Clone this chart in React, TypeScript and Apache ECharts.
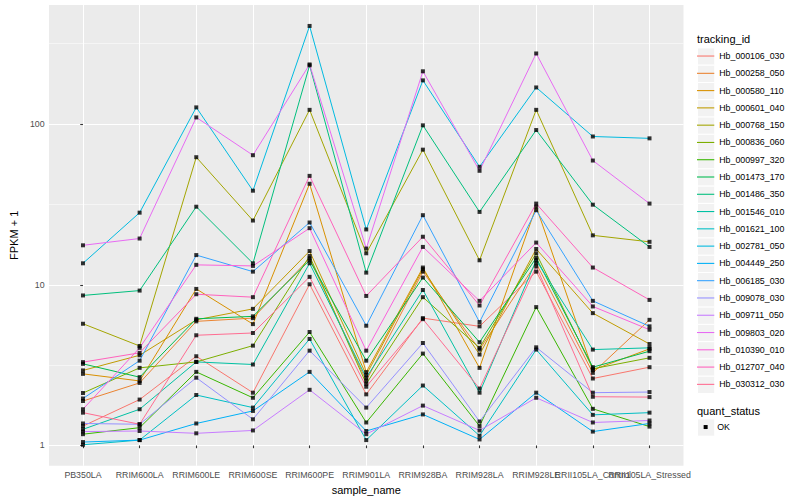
import React, { useEffect, useRef } from "react";
import * as echarts from "echarts";

const categories = [
  "PB350LA", "RRIM600LA", "RRIM600LE", "RRIM600SE", "RRIM600PE", "RRIM901LA",
  "RRIM928BA", "RRIM928LA", "RRIM928LE", "RRII105LA_Control", "RRII105LA_Stressed",
];

const trackingIds = [
  "Hb_000106_030", "Hb_000258_050", "Hb_000580_110", "Hb_000601_040", "Hb_000768_150",
  "Hb_000836_060", "Hb_000997_320", "Hb_001473_170", "Hb_001486_350", "Hb_001546_010",
  "Hb_001621_100", "Hb_002781_050", "Hb_004449_250", "Hb_006185_030", "Hb_009078_030",
  "Hb_009711_050", "Hb_009803_020", "Hb_010390_010", "Hb_012707_040", "Hb_030312_030",
];

const seriesColors = [
  "#F8766D", "#EA8331", "#D89000", "#C09B00", "#A3A500", "#7CAE00", "#39B600",
  "#00BB4E", "#00BF7D", "#00C1A3", "#00BFC4", "#00BAE0", "#00B0F6", "#35A2FF",
  "#9590FF", "#C77CFF", "#E76BF3", "#FA62DB", "#FF62BC", "#FF6C91",
];

// FPKM + 1 per sample, in the order of `categories`
const hb_000106_030 = [1.32, 1.93, 3.59, 2.13, 10.07, 2.08, 6.2, 5.51, 12.07, 2.61, 3.07];
const hb_000258_050 = [1.89, 2.45, 5.92, 6.2, 14.6, 2.53, 12.07, 3.95, 13.6, 2.83, 6.05];
const hb_000580_110 = [2.79, 2.52, 9.42, 5.69, 42.5, 2.86, 12.8, 3.04, 30.6, 2.95, 3.99];
const hb_000601_040 = [2.93, 3.64, 6.05, 7.08, 16.2, 2.75, 12.5, 3.68, 16.7, 6.66, 4.28];
const hb_000768_150 = [5.72, 4.16, 62.2, 25.1, 122.6, 15.7, 69.3, 14.2, 122.6, 20.3, 18.5];
const hb_000836_060 = [2.12, 3.04, 3.31, 4.18, 15.1, 2.42, 8.37, 4.05, 15.7, 3.0, 3.51];
const hb_000997_320 = [1.175, 1.29, 2.87, 1.98, 5.08, 1.39, 3.73, 1.32, 7.26, 1.69, 1.31];
const hb_001473_170 = [3.22, 2.66, 6.14, 6.36, 14.2, 3.37, 11.08, 4.39, 14.7, 3.07, 3.86];
const hb_001486_350 = [8.58, 9.2, 30.6, 13.6, 232, 11.9, 98.2, 28.4, 91.8, 31.5, 17.2];
const hb_001546_010 = [1.26, 1.68, 3.31, 3.19, 13.6, 2.64, 9.28, 2.13, 14.2, 3.95, 4.05];
const hb_001621_100 = [1.01, 1.08, 2.06, 1.72, 4.6, 1.08, 2.36, 1.15, 3.95, 1.55, 1.6];
const hb_002781_050 = [13.6, 28.1, 127, 38.5, 408, 22.1, 187, 54.2, 169, 83.7, 81.5];
const hb_004449_250 = [1.05, 1.08, 1.37, 1.64, 2.87, 1.23, 1.56, 1.09, 2.13, 1.22, 1.37];
const hb_006185_030 = [1.96, 3.37, 15.3, 12.07, 24.4, 5.56, 27.1, 5.86, 29.1, 7.94, 5.51];
const hb_009078_030 = [1.37, 1.355, 2.64, 1.455, 3.89, 1.72, 4.34, 1.41, 4.08, 2.13, 2.15];
const hb_009711_050 = [1.22, 1.23, 1.19, 1.24, 2.22, 1.175, 1.77, 1.24, 1.98, 1.39, 1.43];
const hb_009803_020 = [17.6, 19.4, 110, 64, 235, 16.8, 213, 51.2, 275, 59.3, 32];
const hb_010390_010 = [1.68, 4.05, 13.3, 13.1, 22.5, 3.89, 17.2, 7.94, 18.3, 7.33, 5.25];
const hb_012707_040 = [3.3, 3.77, 8.73, 8.37, 47.6, 8.52, 19.9, 7.43, 32, 12.8, 8.05];
const hb_030312_030 = [1.6, 1.355, 4.85, 5.01, 11.2, 2.32, 6.11, 2.26, 13.0, 2.01, 2.0];

const seriesValues = [
  hb_000106_030, hb_000258_050, hb_000580_110, hb_000601_040, hb_000768_150,
  hb_000836_060, hb_000997_320, hb_001473_170, hb_001486_350, hb_001546_010,
  hb_001621_100, hb_002781_050, hb_004449_250, hb_006185_030, hb_009078_030,
  hb_009711_050, hb_009803_020, hb_010390_010, hb_012707_040, hb_030312_030,
];

const yTickLabels = [1, 10, 100];
const quantStatus = ["OK"];

const FONT = "'Liberation Sans', Arial, Helvetica, sans-serif";

export default function App() {
  const ref = useRef<HTMLDivElement>(null);

  useEffect(() => {
    if (!ref.current) return;
    const chart = echarts.init(ref.current, undefined, { renderer: "svg" });

    const logs = seriesValues.flat().map((v) => Math.log10(v));
    const lo = Math.min(...logs);
    const hi = Math.max(...logs);
    const pad = (hi - lo) * 0.05;
    const yMin = lo - pad;
    const yMax = hi + pad;

    const majorLog = yTickLabels.map((v) => Math.log10(v));
    const minorLog: number[] = [];
    for (let i = 0; i < majorLog.length; i++) minorLog.push(majorLog[i] + 0.5);

    const catIdx = categories.map((_, i) => i);
    const evenIdx = catIdx.filter((i) => i % 2 === 0);
    const oddIdx = catIdx.filter((i) => i % 2 === 1);

    const panelLeft = 40;
    const panelTop = 5;
    const panelW = 643.5;
    const panelH = 463.3;

    const keySize = 17.28;
    const legendLeft = 697;
    const legendTop = 47.4;

    const graphics: any[] = [];
    trackingIds.forEach((_, i) => {
      graphics.push({
        type: "rect",
        left: legendLeft,
        top: legendTop + keySize * i,
        shape: { width: keySize, height: keySize },
        style: { fill: "#F2F2F2", stroke: "#FFFFFF", lineWidth: 1 },
        z: 0,
      });
    });
    graphics.push({
      type: "text",
      left: legendLeft,
      top: 33,
      style: { text: "tracking_id", fill: "#000000", font: `11px ${FONT}` },
    });
    graphics.push({
      type: "text",
      left: legendLeft,
      top: 405,
      style: { text: "quant_status", fill: "#000000", font: `11px ${FONT}` },
    });
    quantStatus.forEach((q, i) => {
      const top = 418.4 + keySize * i;
      graphics.push({
        type: "rect",
        left: legendLeft,
        top,
        shape: { width: keySize, height: keySize },
        style: { fill: "#F2F2F2", stroke: "#FFFFFF", lineWidth: 1 },
      });
      graphics.push({
        type: "rect",
        left: legendLeft + keySize / 2 - 2,
        top: top + keySize / 2 - 2,
        shape: { width: 4, height: 4 },
        style: { fill: "#000000" },
      });
      graphics.push({
        type: "text",
        left: legendLeft + keySize + 3,
        top: top + keySize / 2 - 5,
        style: { text: q, fill: "#000000", font: `8.8px ${FONT}` },
      });
    });

    const lineSeries = trackingIds.map((name, i) => ({
      name,
      type: "line",
      data: seriesValues[i].map((v, j) => [j, Math.log10(v)]),
      symbol: "none",
      color: seriesColors[i],
      lineStyle: { color: seriesColors[i], width: 1 },
      silent: true,
      emphasis: { disabled: true },
      z: 2,
    }));

    const pointData: number[][] = [];
    seriesValues.forEach((vals) => vals.forEach((v, j) => pointData.push([j, Math.log10(v)])));

    const labelStyle = {
      formatter: (v: number) => categories[Math.round(v)] ?? "",
      color: "#4D4D4D",
      fontSize: 8.8,
      margin: 4.4,
      fontFamily: FONT,
      hideOverlap: false,
      showMinLabel: true,
      showMaxLabel: true,
    };

    const option: any = {
      animation: false,
      textStyle: { fontFamily: FONT },
      grid: {
        left: panelLeft,
        top: panelTop,
        width: panelW,
        height: panelH,
        show: true,
        backgroundColor: "#EBEBEB",
        borderWidth: 0,
      },
      xAxis: [
        {
          type: "value",
          min: -0.6,
          max: categories.length - 1 + 0.6,
          position: "bottom",
          axisLine: { show: false },
          axisTick: {
            show: true,
            length: 2.75,
            customValues: catIdx,
            lineStyle: { color: "#333333", width: 1.07 },
          },
          axisLabel: { ...labelStyle, customValues: evenIdx },
          splitLine: { show: true, lineStyle: { color: "#FFFFFF", width: 1.07 } },
          name: "sample_name",
          nameLocation: "middle",
          nameGap: 12,
          nameTextStyle: { fontSize: 11, color: "#000000", fontFamily: FONT },
        },
        {
          type: "value",
          min: -0.6,
          max: categories.length - 1 + 0.6,
          position: "bottom",
          offset: 0,
          axisLine: { show: false },
          axisTick: { show: false, customValues: oddIdx },
          axisLabel: { ...labelStyle, customValues: oddIdx },
          splitLine: { show: false },
        },
      ],
      yAxis: [
        {
          type: "value",
          min: yMin,
          max: yMax,
          axisLine: { show: false },
          axisTick: {
            show: true,
            length: 2.75,
            customValues: majorLog,
            lineStyle: { color: "#333333", width: 1.07 },
          },
          axisLabel: {
            customValues: majorLog,
            formatter: (v: number) => String(Math.round(Math.pow(10, v))),
            color: "#4D4D4D",
            fontSize: 8.8,
            margin: 4.4,
            fontFamily: FONT,
            showMinLabel: true,
            showMaxLabel: true,
          },
          splitLine: { show: true, lineStyle: { color: "#FFFFFF", width: 1.07 } },
          name: "FPKM + 1",
          nameLocation: "middle",
          nameGap: 22,
          nameRotate: 90,
          nameTextStyle: { fontSize: 11, color: "#000000", fontFamily: FONT },
        },
        {
          type: "value",
          min: yMin,
          max: yMax,
          position: "left",
          axisLine: { show: false },
          axisTick: { show: false, customValues: minorLog },
          axisLabel: { show: false, customValues: minorLog },
          splitLine: { show: true, lineStyle: { color: "#FFFFFF", width: 0.53 } },
        },
      ],
      legend: {
        orient: "vertical",
        left: legendLeft,
        top: legendTop,
        padding: 0,
        itemWidth: keySize,
        itemHeight: keySize,
        itemGap: 0,
        icon: "path://M0,0L16,0L16,1L0,1Z",
        itemStyle: { borderWidth: 0 },
        selectedMode: false,
        data: trackingIds,
        textStyle: { fontSize: 8.8, color: "#000000", fontFamily: FONT, lineHeight: keySize },
      },
      graphic: graphics,
      series: [
        ...lineSeries,
        {
          name: quantStatus[0],
          type: "scatter",
          data: pointData,
          symbol: "rect",
          symbolSize: 4,
          itemStyle: { color: "#000000" },
          silent: true,
          z: 3,
        },
      ],
    };

    chart.setOption(option);
    return () => chart.dispose();
  }, []);

  return (
    <div
      ref={ref}
      style={{ position: "fixed", left: 0, top: 0, width: 800, height: 500, background: "#FFFFFF" }}
    />
  );
}
